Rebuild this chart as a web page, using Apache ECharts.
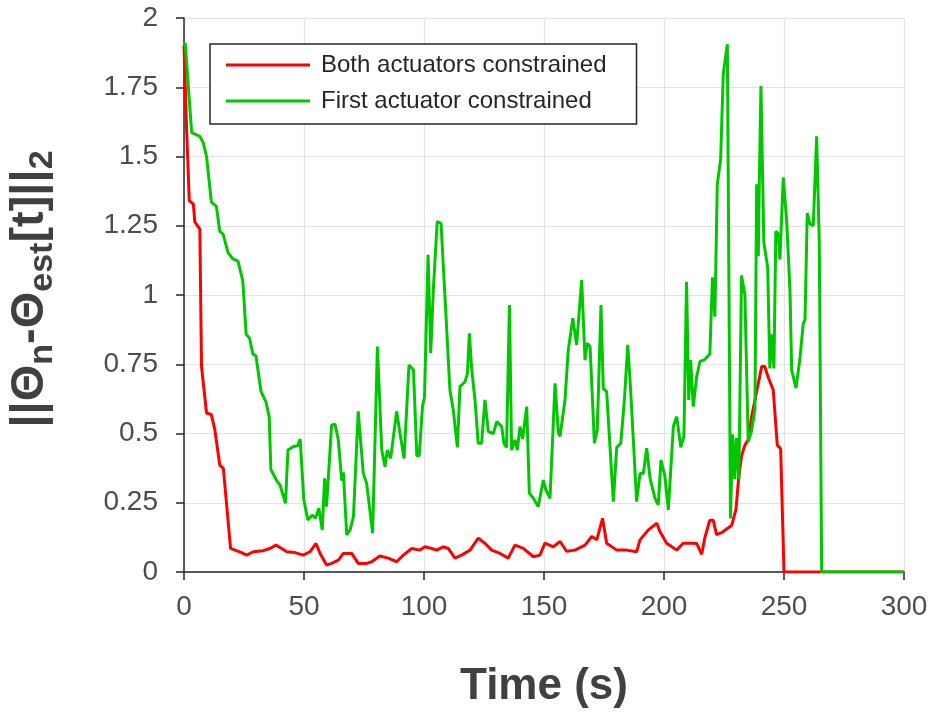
<!DOCTYPE html>
<html>
<head>
<meta charset="utf-8">
<script src="https://cdn.jsdelivr.net/npm/echarts@6/dist/echarts.min.js"></script>
<style>html,body{margin:0;padding:0;background:#fff}#c{width:942px;height:713px}</style>
</head>
<body>
<div id="c"></div>
<script>
// ---- data ----
const seriesNames = ['Both actuators constrained', 'First actuator constrained'];
const xTicks = [0, 50, 100, 150, 200, 250, 300];
const yTicks = [0, 0.25, 0.5, 0.75, 1, 1.25, 1.5, 1.75, 2];

const timeBoth = [0,1,2.2,3.9,4.5,6.6,7.3,9.4,11.4,12.8,14.9,16.4,19.4,21.25,24,26.1,28.9,33,35.8,38.3,40.7,42.8,46.25,49.7,52.5,55,56.7,59.4,61.5,64.3,66.4,69.9,72.6,76.1,78.2,81.6,85.1,88.6,91.4,94.9,98.3,100.4,103.2,105.3,108,110.1,112.9,115.7,119.2,122.6,125.4,128.2,131.7,135.1,137.9,141.4,145.6,148.3,150.4,153.9,156.7,159.4,162.9,167.1,169.9,172,174.4,176.1,180.3,184.4,188.6,190,193.5,197,198.3,201.1,205.3,208,211.5,213.6,215.7,217,219.1,220.5,221.9,224,226.1,228.2,230,231,232.3,233.7,235.1,236.5,238.6,240.7,242,243.4,245.5,247.2,248.6,250,300];
const errBoth = [1.9,1.62,1.341,1.328,1.264,1.238,0.742,0.574,0.568,0.516,0.386,0.374,0.085,0.079,0.07,0.061,0.073,0.077,0.085,0.097,0.085,0.073,0.07,0.061,0.073,0.103,0.067,0.025,0.031,0.043,0.067,0.067,0.031,0.031,0.037,0.058,0.05,0.037,0.061,0.085,0.079,0.091,0.085,0.079,0.091,0.085,0.05,0.061,0.079,0.122,0.104,0.079,0.067,0.05,0.097,0.085,0.055,0.061,0.104,0.091,0.11,0.075,0.079,0.097,0.128,0.116,0.194,0.104,0.079,0.079,0.073,0.116,0.152,0.176,0.146,0.104,0.079,0.104,0.104,0.103,0.064,0.123,0.187,0.187,0.135,0.142,0.155,0.168,0.226,0.329,0.419,0.458,0.477,0.561,0.651,0.742,0.742,0.703,0.658,0.458,0.445,0,0];

const timeFirst = [0,0.5,3.2,6.6,8,9.4,11.4,13.5,14.9,16.3,18.3,20.4,22.5,24.5,25.9,27.3,28.7,30,32.1,34.2,35.5,36.2,38.5,40,42.3,43.3,45.4,47.4,48.4,49.9,51.6,53.4,54.8,56.2,57.6,58.6,59.4,60.2,61.5,62.9,64.3,65.7,66.4,67.8,69.2,70.6,72.6,74.7,76.1,78.6,80.6,82.4,83.75,84.7,86.1,88.6,90,91.7,93.75,95.6,97,98,99.4,100.2,101.7,102.8,103.9,105.5,107.1,109.4,110.8,112.2,113.9,115,117.1,118.1,118.9,119.9,121.25,122.6,124,125.4,126.8,128.9,130.3,132.4,133.3,134.4,135.6,136.5,137.9,138.9,140,141.1,142.8,143.9,145.6,147.6,149.7,150.8,152.5,154.6,156,156.7,158.75,160.1,162,163.6,165.7,167.1,168,169.2,171,172.2,173.75,174.7,176.1,178.9,180.3,182,183.5,184.9,186.1,188.6,190,191.4,192.8,194.2,196.25,197.6,198.75,200.4,201.8,203.9,205.3,207,208.3,209.4,210.3,211.1,212.2,213.6,215,217,219.1,220.2,221.2,222.2,223.6,224.7,226.4,227.7,228.6,229.5,230.2,231.2,232.3,233.7,235.1,236.5,237.9,238.6,239.3,239.7,240.4,241.6,243.2,244.1,244.8,245.8,246.6,247.6,248.3,249.7,251.1,252.5,253.2,255,256.6,258,258.75,259.7,260.8,262.2,263.6,264.7,265.7,300];
const errFirst = [1.9,1.91,1.586,1.573,1.55,1.5,1.335,1.32,1.23,1.22,1.154,1.13,1.122,1.051,0.858,0.845,0.787,0.78,0.651,0.613,0.56,0.37,0.332,0.314,0.248,0.44,0.452,0.456,0.48,0.262,0.188,0.205,0.194,0.23,0.152,0.338,0.236,0.236,0.53,0.534,0.477,0.33,0.36,0.134,0.152,0.2,0.58,0.356,0.32,0.14,0.814,0.44,0.38,0.44,0.41,0.58,0.5,0.41,0.747,0.73,0.42,0.42,0.6,0.63,1.145,0.79,1.02,1.265,1.259,0.886,0.657,0.585,0.45,0.669,0.687,0.717,0.862,0.73,0.621,0.465,0.465,0.621,0.507,0.5,0.543,0.525,0.465,0.45,0.964,0.44,0.477,0.44,0.525,0.48,0.597,0.284,0.266,0.236,0.332,0.296,0.266,0.681,0.5,0.49,0.621,0.8,0.916,0.82,1.054,0.765,0.826,0.813,0.465,0.513,0.964,0.663,0.651,0.254,0.45,0.465,0.621,0.82,0.657,0.254,0.356,0.356,0.447,0.338,0.266,0.242,0.404,0.344,0.224,0.525,0.561,0.45,0.49,1.048,0.621,0.765,0.597,0.705,0.76,0.767,0.787,1.064,0.922,1.399,1.49,1.799,1.905,0.193,0.497,0.335,0.484,0.335,1.07,1.0,0.47,0.51,0.587,1.4,1.14,1.4,1.754,1.19,1.1,0.735,0.858,0.735,1.23,1.22,1.128,1.425,1.27,1.012,0.729,0.664,0.767,0.896,0.91,1.296,1.257,1.25,1.573,1.19,0,0];

const zip = (a, b) => a.map((v, i) => [v, b[i]]);

const axisColor = '#262626';
const labelColor = '#4d4d4d';
const titleColor = '#404040';
const gridColor = '#e3e3e3';
const font = 'Liberation Sans, Arial, sans-serif';

const chart = echarts.init(document.getElementById('c'), null, {renderer: 'canvas'});
chart.setOption({
  animation: false,
  backgroundColor: '#fff',
  grid: {left: 184, right: 38, top: 18, bottom: 141, containLabel: false, outerBoundsMode: 'none'},
  legend: {
    orient: 'vertical',
    left: 210, top: 44,
    data: seriesNames,
    icon: 'rect',
    itemWidth: 84, itemHeight: 3,
    itemGap: 12,
    padding: [9, 30, 11, 16],
    borderColor: axisColor, borderWidth: 1.5,
    backgroundColor: '#fff',
    textStyle: {fontFamily: font, fontSize: 24, color: axisColor, padding: [0, 0, 0, 6]}
  },
  xAxis: {
    type: 'value', min: 0, max: 300, interval: 50,
    name: 'Time (s)', nameLocation: 'middle', nameGap: 93,
    nameTextStyle: {fontFamily: font, fontSize: 44, fontWeight: 'bold', color: titleColor},
    axisLine: {show: true, onZero: false, lineStyle: {color: axisColor, width: 1.5}},
    axisTick: {show: true, inside: false, length: 8, lineStyle: {color: axisColor, width: 1.5}},
    axisLabel: {margin: 21, fontFamily: font, fontSize: 28, color: labelColor,
      formatter: v => xTicks.includes(v) ? String(v) : ''},
    splitLine: {show: true, lineStyle: {color: gridColor, width: 1.2}}
  },
  yAxis: {
    type: 'value', min: 0, max: 2, interval: 0.25,
    name: '{m|||Θ}{s|n}{m|-Θ}{s|est}{m|[t]||}{s|2}',
    nameLocation: 'middle', nameGap: 124, nameRotate: 90,
    nameTextStyle: {
      color: titleColor,
      padding: [0, 0, 0, 12],
      rich: {
        m: {fontFamily: font, fontSize: 47, fontWeight: 'bold', color: titleColor, lineHeight: 60, verticalAlign: 'middle'},
        s: {fontFamily: font, fontSize: 34, fontWeight: 'bold', color: titleColor, lineHeight: 60, verticalAlign: 'bottom'}
      }
    },
    axisLine: {show: true, onZero: false, lineStyle: {color: axisColor, width: 1.5}},
    axisTick: {show: true, inside: false, length: 8, lineStyle: {color: axisColor, width: 1.5}},
    axisLabel: {margin: 26, fontFamily: font, fontSize: 28, color: labelColor,
      formatter: v => yTicks.includes(v) ? String(v) : ''},
    splitLine: {show: true, lineStyle: {color: gridColor, width: 1.2}}
  },
  series: [
    {name: seriesNames[0], type: 'line', data: zip(timeBoth, errBoth), showSymbol: false, symbol: 'none',
     lineStyle: {color: '#ff0000', width: 3}, itemStyle: {color: '#ff0000'}, z: 2},
    {name: seriesNames[1], type: 'line', data: zip(timeFirst, errFirst), showSymbol: false, symbol: 'none',
     lineStyle: {color: '#00c800', width: 3}, itemStyle: {color: '#00c800'}, z: 3}
  ]
});
</script>
</body>
</html>
